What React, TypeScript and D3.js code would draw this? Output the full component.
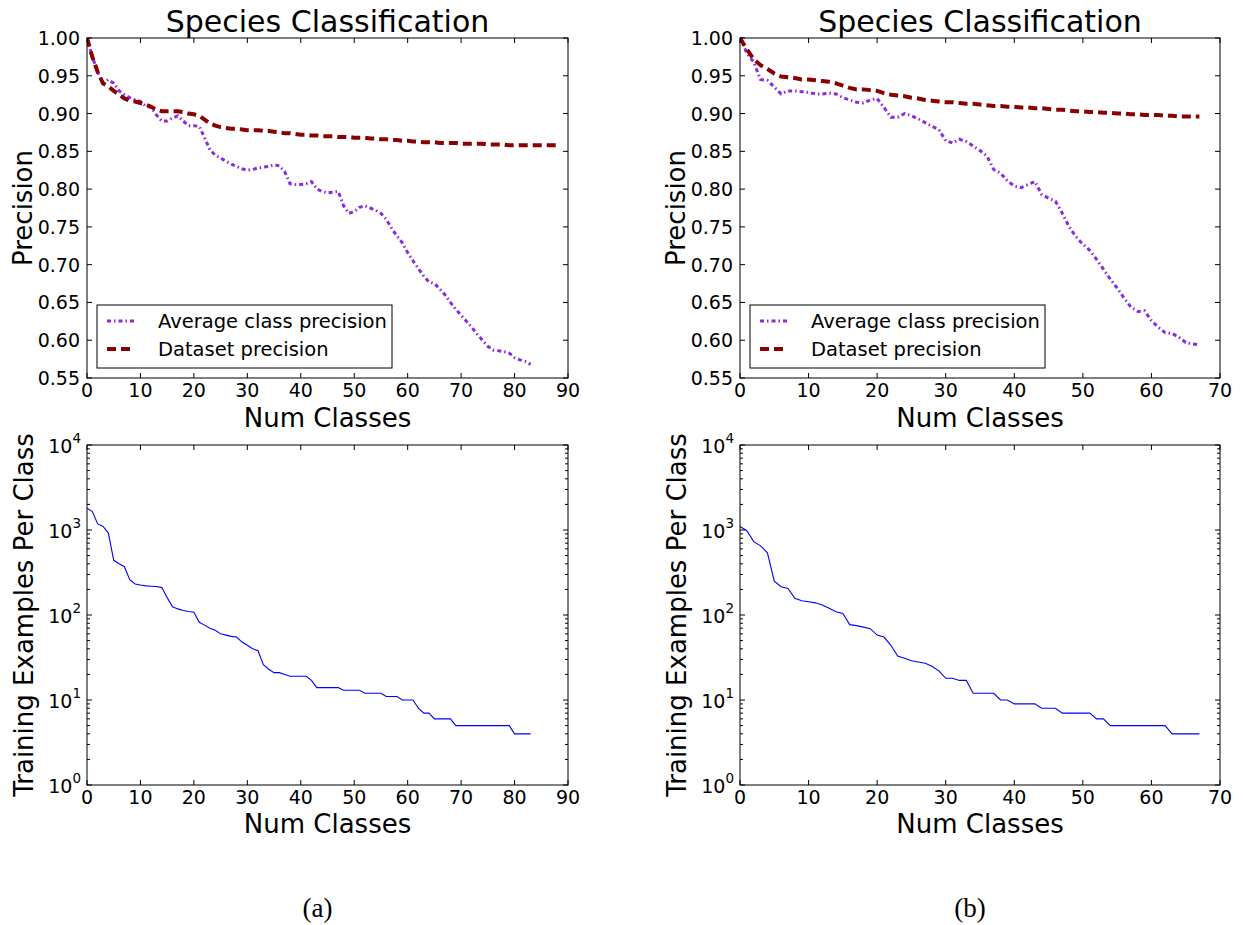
import { useEffect, useRef } from 'react';
import * as d3 from 'd3';

// precision curves, indexed by number of classes (0..N)
const avgPrecisionA = [
  1.0, 0.975, 0.955, 0.94, 0.945, 0.94, 0.93, 0.925, 0.921, 0.918,
  0.916, 0.91, 0.908, 0.898, 0.89, 0.89, 0.894, 0.897, 0.89, 0.884,
  0.884, 0.883, 0.868, 0.852, 0.845, 0.841, 0.837, 0.833, 0.83, 0.827,
  0.825, 0.826, 0.828, 0.829, 0.83, 0.832, 0.831, 0.823, 0.807, 0.806,
  0.806, 0.807, 0.81, 0.8, 0.797, 0.795, 0.796, 0.797, 0.778, 0.768,
  0.77, 0.776, 0.778, 0.775, 0.772, 0.768, 0.76, 0.748, 0.738, 0.729,
  0.716, 0.705, 0.695, 0.685, 0.677, 0.675, 0.668, 0.66, 0.65, 0.641,
  0.633, 0.625, 0.617, 0.608, 0.6, 0.592, 0.587, 0.586, 0.585, 0.583,
  0.577, 0.574, 0.572, 0.568,
];
const datasetPrecisionA = [
  1.0, 0.975, 0.955, 0.94, 0.936, 0.93, 0.925, 0.92, 0.917, 0.916,
  0.914, 0.912, 0.909, 0.905, 0.903, 0.903, 0.903, 0.903, 0.902, 0.9,
  0.899, 0.897, 0.892, 0.887, 0.884, 0.882, 0.881, 0.88, 0.88, 0.879,
  0.878, 0.878, 0.878, 0.877, 0.877, 0.876, 0.875, 0.874, 0.874, 0.873,
  0.872, 0.872, 0.871, 0.871, 0.87, 0.87, 0.87, 0.869, 0.869, 0.869,
  0.868, 0.868, 0.868, 0.867, 0.867, 0.866, 0.866, 0.865, 0.865, 0.864,
  0.864, 0.863, 0.863, 0.862, 0.862, 0.862, 0.861, 0.861, 0.861, 0.861,
  0.86, 0.86, 0.86, 0.86, 0.86, 0.859, 0.859, 0.859, 0.859, 0.858,
  0.858, 0.858, 0.858, 0.858, 0.858, 0.858, 0.858, 0.858, 0.858,
];
const avgPrecisionB = [
  1.0, 0.98, 0.968, 0.945, 0.944, 0.935, 0.926, 0.93, 0.93, 0.929,
  0.928, 0.926, 0.926, 0.927, 0.926, 0.921, 0.918, 0.915, 0.914, 0.918,
  0.92, 0.908, 0.895, 0.895, 0.9, 0.897, 0.893, 0.888, 0.883, 0.879,
  0.864, 0.861, 0.866, 0.863, 0.857, 0.851, 0.844, 0.826, 0.821, 0.811,
  0.804, 0.802, 0.806, 0.81, 0.793, 0.788, 0.784, 0.768, 0.75, 0.737,
  0.727, 0.719, 0.707, 0.694, 0.681, 0.669, 0.656, 0.644, 0.638, 0.639,
  0.626, 0.617, 0.61, 0.609, 0.604, 0.597, 0.595, 0.594,
];
const datasetPrecisionB = [
  1.0, 0.985, 0.972, 0.964, 0.959, 0.953, 0.949, 0.948, 0.947, 0.945,
  0.945, 0.944, 0.943, 0.942, 0.94, 0.937, 0.934, 0.932, 0.932, 0.931,
  0.93, 0.927, 0.925, 0.924, 0.923, 0.921, 0.92, 0.918, 0.917, 0.916,
  0.915, 0.915, 0.914, 0.913, 0.913, 0.912, 0.911, 0.91, 0.91, 0.909,
  0.909, 0.908, 0.908, 0.907, 0.907, 0.906, 0.905, 0.905, 0.904, 0.903,
  0.903, 0.902, 0.902, 0.901, 0.901, 0.9, 0.9, 0.899, 0.899, 0.898,
  0.898, 0.898, 0.897, 0.897, 0.896, 0.896, 0.896, 0.896,
];

// training examples per class, sorted descending
const examplesA = [
  1800, 1650, 1180, 1100, 920, 440, 400, 370, 260, 232,
  225, 220, 218, 216, 210, 160, 125, 118, 113, 110,
  108, 82, 76, 70, 66, 60, 58, 56, 55, 48,
  44, 40, 38, 26, 23, 21, 21, 20, 19, 19,
  19, 19, 17, 14, 14, 14, 14, 14, 13, 13,
  13, 13, 12, 12, 12, 12, 11, 11, 11, 10,
  10, 10, 8, 7, 7, 6, 6, 6, 6, 5,
  5, 5, 5, 5, 5, 5, 5, 5, 5, 5,
  4, 4, 4, 4,
];
const examplesB = [
  1100, 980, 730, 650, 540, 250, 215, 205, 157, 147,
  143, 139, 131, 120, 109, 104, 77, 75, 72, 69,
  58, 55, 44, 33, 31, 29, 28, 27, 25, 22,
  18, 18, 17, 17, 12, 12, 12, 12, 10, 10,
  9, 9, 9, 9, 8, 8, 8, 7, 7, 7,
  7, 7, 6, 6, 5, 5, 5, 5, 5, 5,
  5, 5, 5, 4, 4, 4, 4, 4,
];

const precisionTicks = [0.55, 0.6, 0.65, 0.7, 0.75, 0.8, 0.85, 0.9, 0.95, 1.0];
const logTicks = [1, 10, 100, 1000, 10000];
const panels = [
  { avg: avgPrecisionA, dataset: datasetPrecisionA, counts: examplesA, xMax: 90, caption: '(a)' },
  { avg: avgPrecisionB, dataset: datasetPrecisionB, counts: examplesB, xMax: 70, caption: '(b)' },
];
const seriesNames = ['Average class precision', 'Dataset precision'];

const FONT = 'DejaVu Sans';
const PURPLE = '#8a2be2';
const DARKRED = '#8b0000';
const TICK_FS = 19;
const LABEL_FS = 26;

export default function App() {
  const svgRef = useRef<SVGSVGElement>(null);

  useEffect(() => {
    if (!svgRef.current) return;
    const svg = d3.select(svgRef.current);
    svg.selectAll('*').remove();

    const lefts = [87, 740];
    const widths = [481, 480];
    const top1 = 38, bot1 = 378;
    const top2 = 445, bot2 = 785;

    panels.forEach((p, pi) => {
      const L = lefts[pi];
      const R = L + widths[pi];
      const x = d3.scaleLinear().domain([0, p.xMax]).range([L, R]);
      const xTicks = d3.range(0, p.xMax + 1, 10);

      // ---------- precision chart ----------
      const y = d3.scaleLinear().domain([0.55, 1.0]).range([bot1, top1]);
      const g1 = svg.append('g');

      const clipId = `clip-top-${pi}`;
      g1.append('clipPath').attr('id', clipId)
        .append('rect').attr('x', L).attr('y', top1 - 3).attr('width', R - L).attr('height', bot1 - top1 + 3);

      const line = d3.line<number>().x((_, i) => x(i)).y(d => y(d));

      g1.append('path')
        .datum(p.avg)
        .attr('d', line)
        .attr('fill', 'none')
        .attr('stroke', PURPLE)
        .attr('stroke-width', 3)
        .attr('stroke-dasharray', '4 3 1.5 3')
        .attr('clip-path', `url(#${clipId})`);

      g1.append('path')
        .datum(p.dataset)
        .attr('d', line)
        .attr('fill', 'none')
        .attr('stroke', DARKRED)
        .attr('stroke-width', 4)
        .attr('stroke-dasharray', '9 5')
        .attr('clip-path', `url(#${clipId})`);

      g1.append('rect')
        .attr('x', L).attr('y', top1).attr('width', R - L).attr('height', bot1 - top1)
        .attr('fill', 'none').attr('stroke', '#000').attr('stroke-width', 1);

      xTicks.forEach(t => {
        g1.append('line').attr('x1', x(t)).attr('x2', x(t)).attr('y1', bot1).attr('y2', bot1 - 5).attr('stroke', '#000');
        g1.append('line').attr('x1', x(t)).attr('x2', x(t)).attr('y1', top1).attr('y2', top1 + 5).attr('stroke', '#000');
        g1.append('text').attr('x', x(t)).attr('y', bot1 + 19)
          .attr('text-anchor', 'middle').attr('font-family', FONT).attr('font-size', TICK_FS)
          .text(String(t));
      });
      precisionTicks.forEach(t => {
        g1.append('line').attr('x1', L).attr('x2', L + 5).attr('y1', y(t)).attr('y2', y(t)).attr('stroke', '#000');
        g1.append('line').attr('x1', R).attr('x2', R - 5).attr('y1', y(t)).attr('y2', y(t)).attr('stroke', '#000');
        g1.append('text').attr('x', L - 7).attr('y', y(t) + 7)
          .attr('text-anchor', 'end').attr('font-family', FONT).attr('font-size', TICK_FS)
          .text(d3.format('.2f')(t));
      });

      g1.append('text').attr('x', (L + R) / 2).attr('y', 32)
        .attr('text-anchor', 'middle').attr('font-family', FONT).attr('font-size', 30)
        .text('Species Classification');
      g1.append('text').attr('x', (L + R) / 2).attr('y', 427)
        .attr('text-anchor', 'middle').attr('font-family', FONT).attr('font-size', LABEL_FS)
        .text('Num Classes');
      g1.append('text')
        .attr('transform', `translate(${L - 55},${(top1 + bot1) / 2}) rotate(-90)`)
        .attr('text-anchor', 'middle').attr('font-family', FONT).attr('font-size', LABEL_FS)
        .text('Precision');

      // legend
      const lg = g1.append('g').attr('transform', `translate(${L + 10},305)`);
      lg.append('rect').attr('width', 295).attr('height', 63)
        .attr('fill', '#fff').attr('stroke', '#000').attr('stroke-width', 1);
      const styles = [
        { c: PURPLE, w: 3, dash: '4 3 1.5 3' },
        { c: DARKRED, w: 4, dash: '9 5' },
      ];
      seriesNames.forEach((name, i) => {
        const yy = 16 + i * 28;
        lg.append('line').attr('x1', 10).attr('x2', 37).attr('y1', yy).attr('y2', yy)
          .attr('stroke', styles[i].c).attr('stroke-width', styles[i].w)
          .attr('stroke-dasharray', styles[i].dash);
        lg.append('text').attr('x', 61).attr('y', yy + 7)
          .attr('font-family', FONT).attr('font-size', 19.5)
          .text(name);
      });

      // ---------- examples per class (log) ----------
      const yl = d3.scaleLog().domain([1, 10000]).range([bot2, top2]);
      const g2 = svg.append('g');

      g2.append('path')
        .datum(p.counts)
        .attr('d', d3.line<number>().x((_, i) => x(i)).y(d => yl(d)))
        .attr('fill', 'none')
        .attr('stroke', '#0000ff')
        .attr('stroke-width', 1.1);

      g2.append('rect')
        .attr('x', L).attr('y', top2).attr('width', R - L).attr('height', bot2 - top2)
        .attr('fill', 'none').attr('stroke', '#000').attr('stroke-width', 1);

      xTicks.forEach(t => {
        g2.append('line').attr('x1', x(t)).attr('x2', x(t)).attr('y1', bot2).attr('y2', bot2 - 5).attr('stroke', '#000');
        g2.append('line').attr('x1', x(t)).attr('x2', x(t)).attr('y1', top2).attr('y2', top2 + 5).attr('stroke', '#000');
        g2.append('text').attr('x', x(t)).attr('y', bot2 + 19)
          .attr('text-anchor', 'middle').attr('font-family', FONT).attr('font-size', TICK_FS)
          .text(String(t));
      });
      logTicks.forEach((t, k) => {
        g2.append('line').attr('x1', L).attr('x2', L + 5).attr('y1', yl(t)).attr('y2', yl(t)).attr('stroke', '#000');
        g2.append('line').attr('x1', R).attr('x2', R - 5).attr('y1', yl(t)).attr('y2', yl(t)).attr('stroke', '#000');
        const tx = g2.append('text').attr('x', L - 6).attr('y', yl(t) + 8)
          .attr('text-anchor', 'end').attr('font-family', FONT).attr('font-size', TICK_FS);
        tx.append('tspan').text('10');
        tx.append('tspan').attr('dy', -10).attr('font-size', 13.5).text(String(k));
        if (t < 10000) {
          d3.range(2, 10).forEach(m => {
            const v = t * m;
            g2.append('line').attr('x1', L).attr('x2', L + 3).attr('y1', yl(v)).attr('y2', yl(v)).attr('stroke', '#000');
            g2.append('line').attr('x1', R).attr('x2', R - 3).attr('y1', yl(v)).attr('y2', yl(v)).attr('stroke', '#000');
          });
        }
      });

      g2.append('text').attr('x', (L + R) / 2).attr('y', 833)
        .attr('text-anchor', 'middle').attr('font-family', FONT).attr('font-size', LABEL_FS)
        .text('Num Classes');
      g2.append('text')
        .attr('transform', `translate(${L - 54},${(top2 + bot2) / 2}) rotate(-90)`)
        .attr('text-anchor', 'middle').attr('font-family', FONT).attr('font-size', LABEL_FS)
        .text('Training Examples Per Class');

      svg.append('text').attr('x', (L + R) / 2 - 10).attr('y', 917)
        .attr('text-anchor', 'middle').attr('font-family', 'Liberation Serif, DejaVu Serif, serif')
        .attr('font-size', 27)
        .text(p.caption);
    });
  }, []);

  return (
    <svg
      ref={svgRef}
      width={1243}
      height={925}
      style={{ position: 'absolute', left: 0, top: 0, background: '#fff' }}
    />
  );
}
